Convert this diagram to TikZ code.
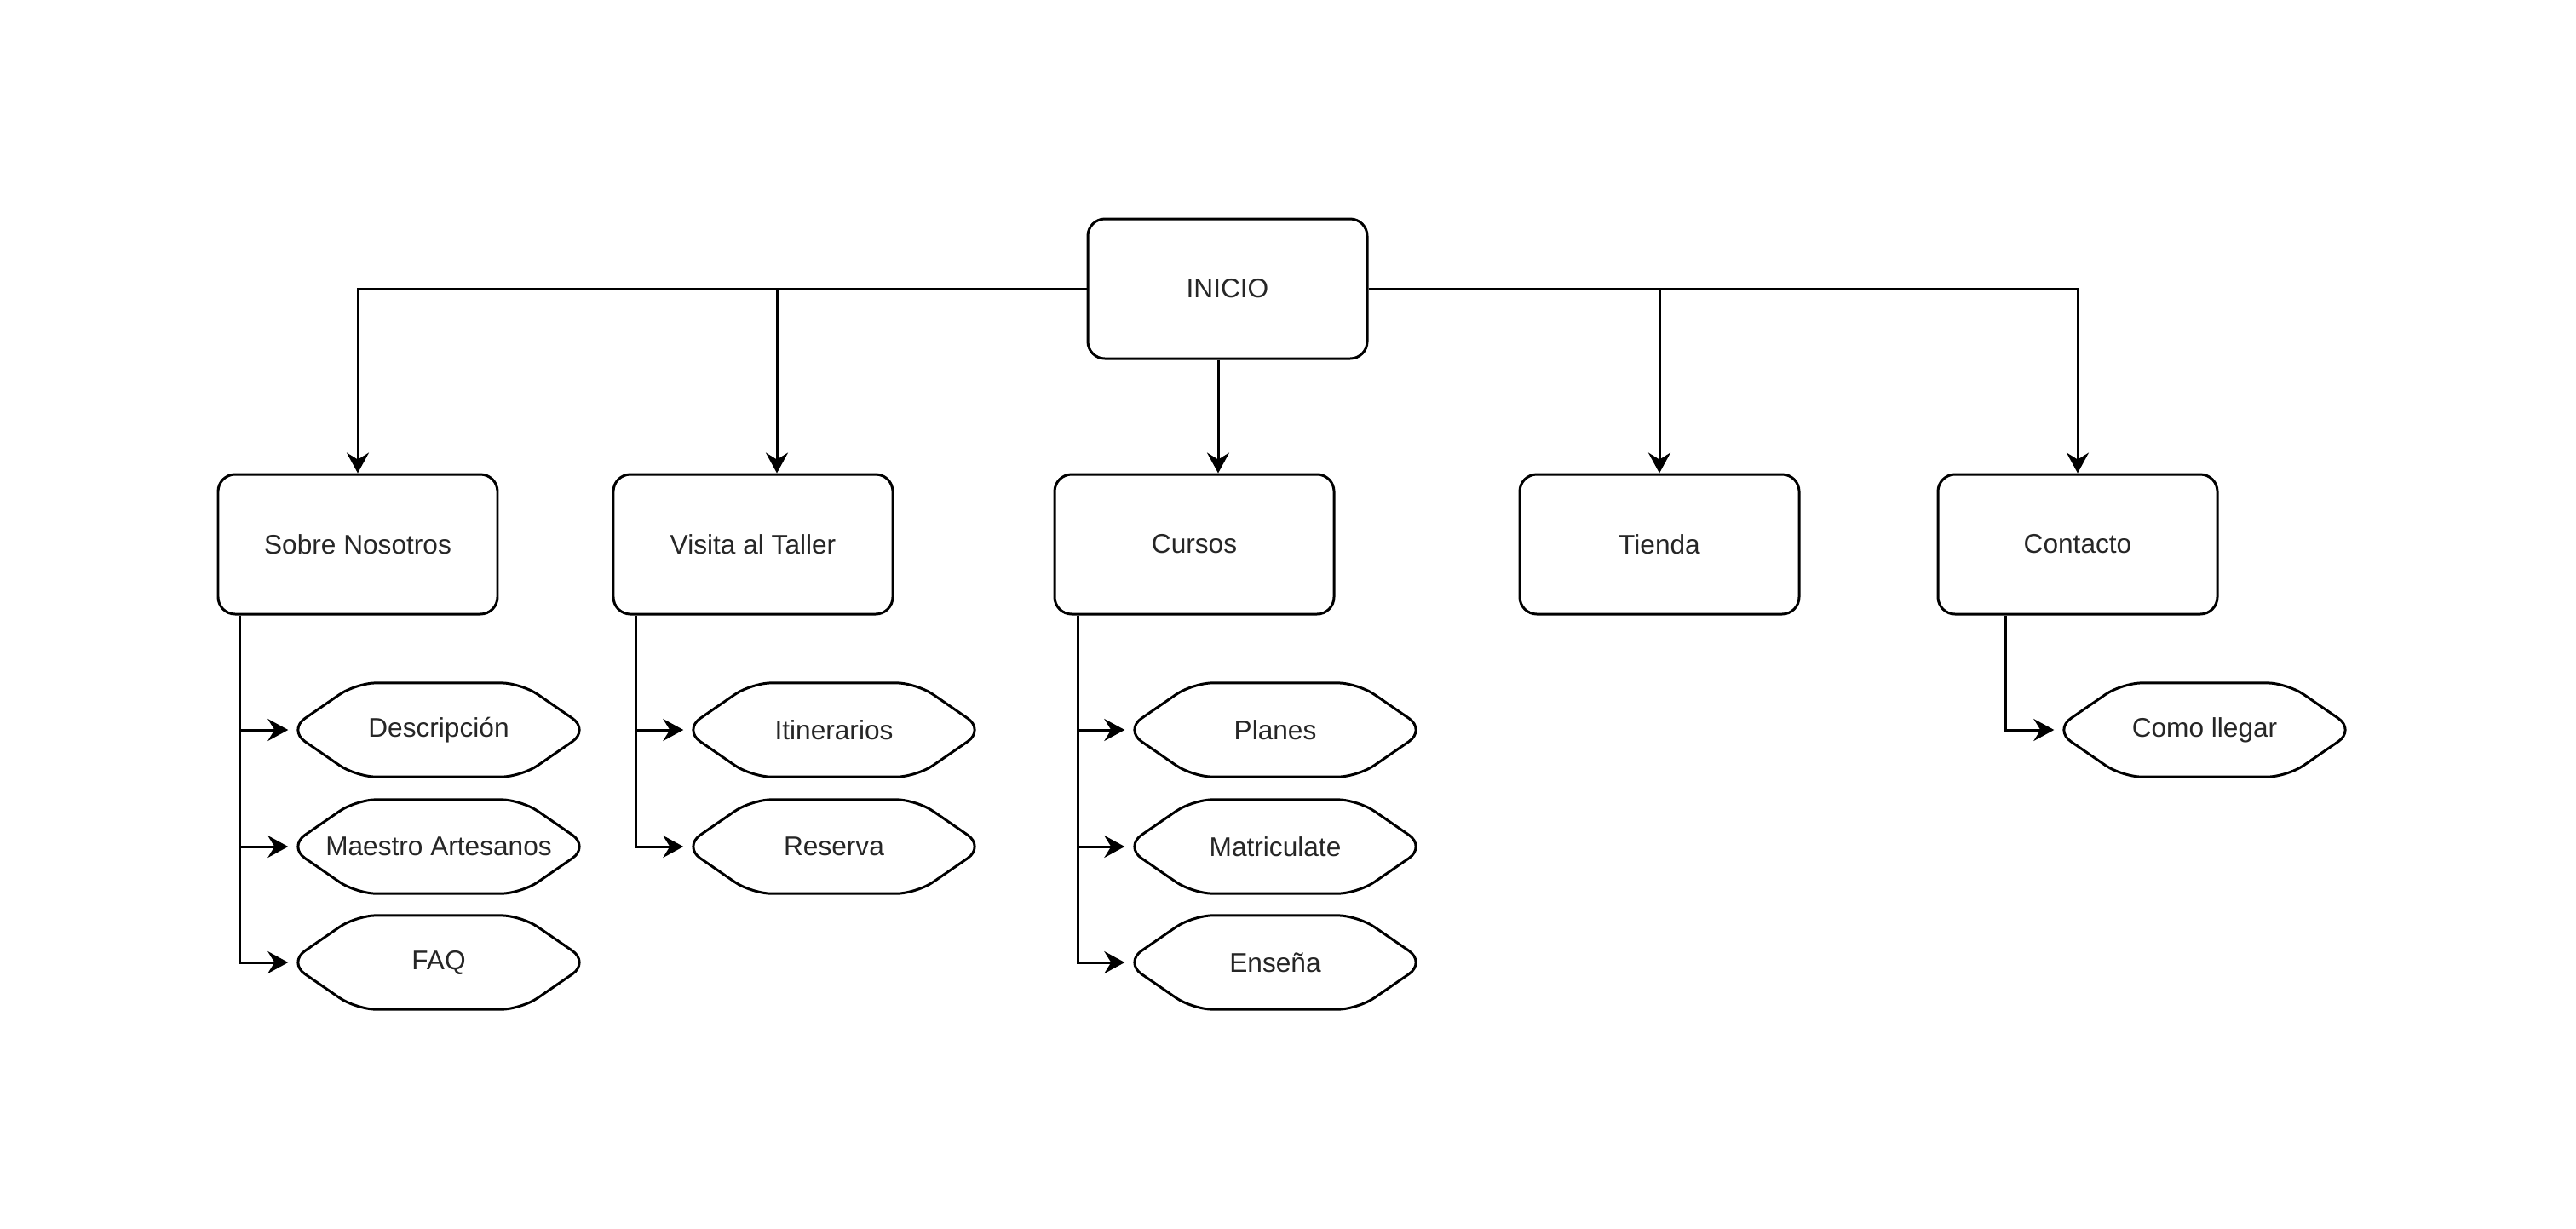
\documentclass[tikz,border=0pt]{standalone}
\usepackage{fontspec}
\setmainfont{Liberation Sans}
\usetikzlibrary{arrows.meta,calc}
\tikzset{
  page/.style={draw, rounded corners=2mm, line width=0.85pt,
    minimum width=3.28cm, minimum height=1.64cm, align=center},
  leaf/.style={minimum width=3.52cm, minimum height=1.09cm, align=center},
  hexline/.style={line width=0.85pt, rounded corners=2.4mm},
  flow/.style={-{Stealth[length=2.4mm,width=2.6mm,inset=0.8mm]}, line width=0.85pt}
}

\begin{document}
\begin{tikzpicture}[font=\fontsize{9}{11}\selectfont, text=black!85]
  \useasboundingbox (0,0) rectangle (30.24,-14.42);

  % main pages
  \node[page] (inicio) at (14.41,-3.39) {INICIO};
  \node[page] (sobre) at (4.20,-6.39) {Sobre Nosotros};
  \node[page] (visita) at (8.84,-6.39) {Visita al Taller};
  \node[page] (cursos) at (14.02,-6.39) {Cursos};
  \node[page] (tienda) at (19.48,-6.39) {Tienda};
  \node[page] (contacto) at (24.39,-6.39) {Contacto};

  % sub pages
  \node[leaf] (desc) at (5.15,-8.57) {Descripción};
  \node[leaf] (maestro) at (5.15,-9.94) {Maestro Artesanos};
  \node[leaf] (faq) at (5.15,-11.30) {FAQ};
  \node[leaf] (itin) at (9.79,-8.57) {Itinerarios};
  \node[leaf] (reserva) at (9.79,-9.94) {Reserva};
  \node[leaf] (planes) at (14.97,-8.57) {Planes};
  \node[leaf] (matri) at (14.97,-9.94) {Matriculate};
  \node[leaf] (ensena) at (14.97,-11.30) {Enseña};
  \node[leaf] (llegar) at (25.88,-8.57) {Como llegar};

  \foreach \n in {desc,maestro,faq,itin,reserva,planes,matri,ensena,llegar}
    \draw[hexline] (\n.west) -- ([xshift=8mm]\n.north west) -- ([xshift=-8mm]\n.north east)
      -- (\n.east) -- ([xshift=-8mm]\n.south east) -- ([xshift=8mm]\n.south west) -- cycle;

  \draw[flow] (inicio.west) -| (sobre.north);
  \draw[flow] (inicio.west) -| ([xshift=2.8mm]visita.north);
  \draw[flow] ([xshift=2.8mm]cursos.north |- inicio.south) -- ([xshift=2.8mm]cursos.north);
  \draw[flow] (inicio.east) -| (tienda.north);
  \draw[flow] (inicio.east) -| (contacto.north);

  \foreach \n in {desc,maestro,faq}
    \draw[flow] ([xshift=2.7mm]sobre.south west) |- (\n.west);
  \foreach \n in {itin,reserva}
    \draw[flow] ([xshift=2.8mm]visita.south west) |- (\n.west);
  \foreach \n in {planes,matri,ensena}
    \draw[flow] ([xshift=2.9mm]cursos.south west) |- (\n.west);
  \draw[flow] ([xshift=8.1mm]contacto.south west) |- (llegar.west);
\end{tikzpicture}
\end{document}
